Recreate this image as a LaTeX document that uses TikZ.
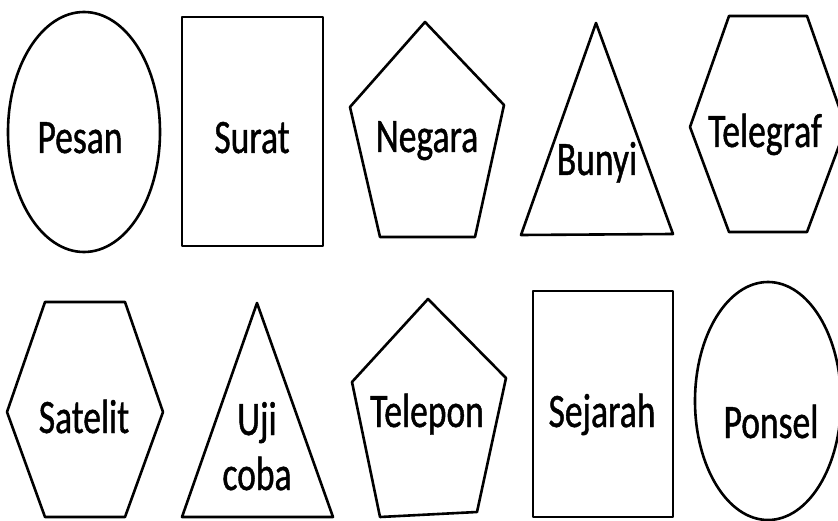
\documentclass[tikz,border=0pt]{standalone}
\usepackage{fontspec}
\newfontfamily\lblfont[FakeStretch=0.74,FakeBold=0.9]{Carlito}
\tikzset{
    outline/.style={line width=2.6pt, line join=round},
    lbl/.style={anchor=base, inner sep=0pt, font=\lblfont\fontsize{48}{50}\selectfont}
}
\begin{document}
\begin{tikzpicture}[x=1pt,y=-1pt]
    \useasboundingbox (0,0) rectangle (838,521);
    % top row
    \draw[outline] (84,132) ellipse [x radius=76, y radius=120];
    \node[lbl] (pesan) at (80,153) {Pesan};
    \draw[outline] (182,17) rectangle (323,246);
    \node[lbl] (surat) at (252,153) {Surat};
    \draw[outline] (425,22) -- (504,105) -- (475,237) -- (380,237) -- (350,107) -- cycle;
    \node[lbl] (negara) at (427,152) {Negara};
    \draw[outline] (596,23) -- (673,234) -- (521,235) -- cycle;
    \node[lbl] (bunyi) at (597,175) {Bunyi};
    \draw[outline] (729,16) -- (807,16) -- (846,127) -- (807,232) -- (729,232) -- (690,127) -- cycle;
    \node[lbl] (telegraf) at (765,147) {Telegraf};
    % bottom row
    \draw[outline] (45,302) -- (125,302) -- (163,412) -- (125,517) -- (45,517) -- (7,412) -- cycle;
    \node[lbl] (satelit) at (84,433) {Satelit};
    \draw[outline] (257,303) -- (333,517) -- (182,517) -- cycle;
    \node[lbl] (uji) at (257,435) {Uji};
    \node[lbl] (coba) at (257,490) {coba};
    \draw[outline] (428,299) -- (506,378) -- (477,512) -- (380,517) -- (352,382) -- cycle;
    \node[lbl] (telepon) at (427,427) {Telepon};
    \draw[outline] (533,291) rectangle (673,517);
    \node[lbl] (sejarah) at (602,427) {Sejarah};
    \draw[outline] (768,401) ellipse [x radius=73, y radius=119];
    \node[lbl] (ponsel) at (771,438) {Ponsel};
\end{tikzpicture}
\end{document}
